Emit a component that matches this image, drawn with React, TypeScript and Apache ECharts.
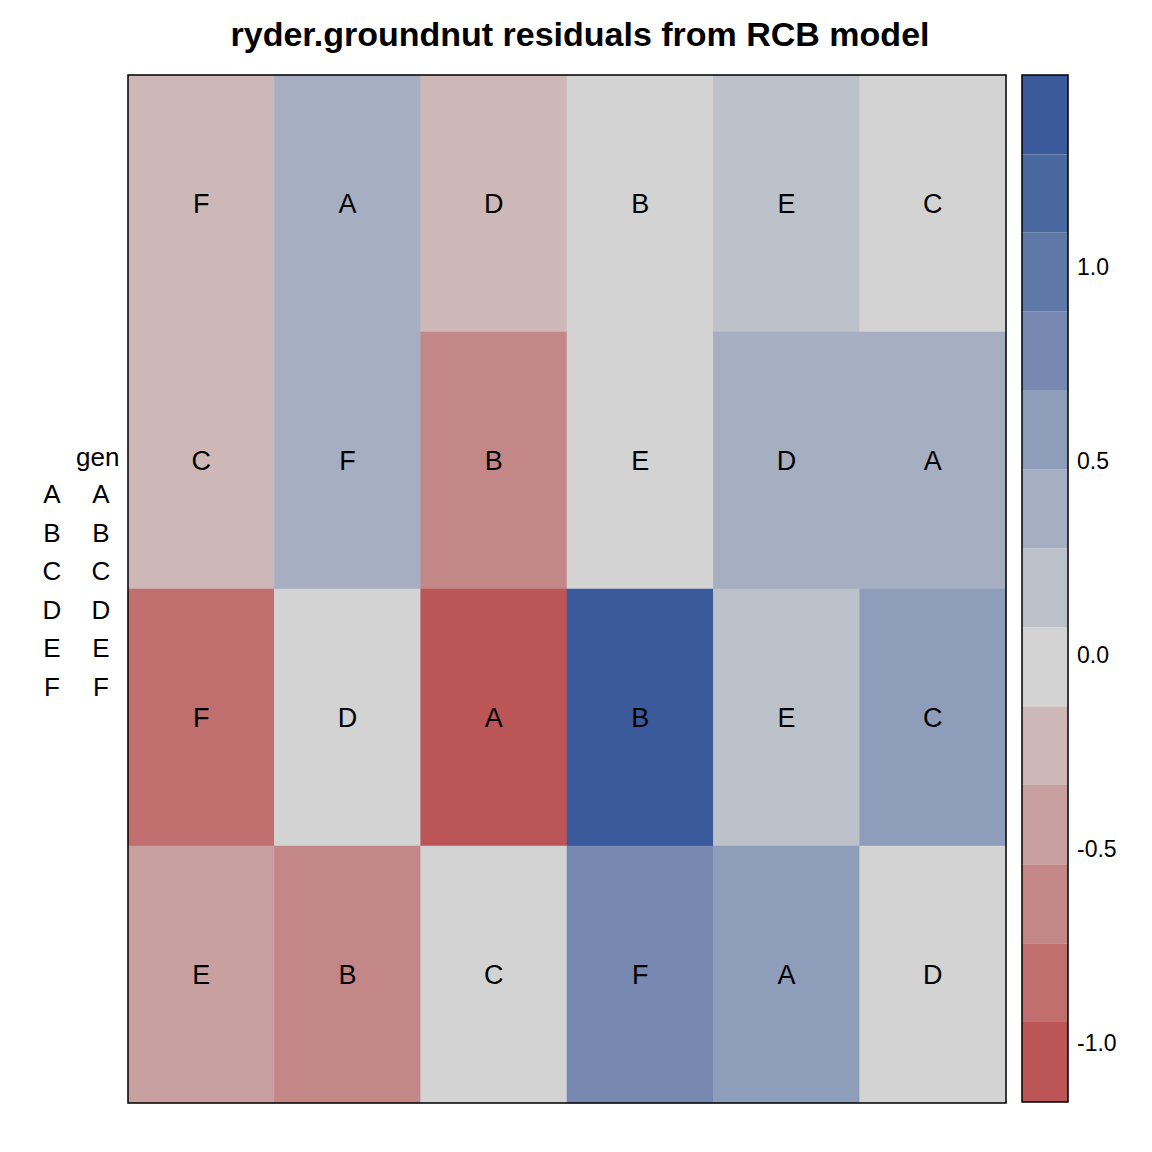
import React, { useEffect, useRef } from 'react';
import * as echarts from 'echarts';

const columns = ['1', '2', '3', '4', '5', '6'];
const rows = ['4', '3', '2', '1']; // bottom to top
// residuals, row by row from top
const rowLetters = [
  ['F', 'A', 'D', 'B', 'E', 'C'],
  ['C', 'F', 'B', 'E', 'D', 'A'],
  ['F', 'D', 'A', 'B', 'E', 'C'],
  ['E', 'B', 'C', 'F', 'A', 'D'],
];
const rowValues = [
  [-0.2, 0.35, -0.2, 0.0, 0.15, 0.0],
  [-0.2, 0.35, -0.6, 0.0, 0.35, 0.35],
  [-0.85, 0.0, -1.05, 1.4, 0.15, 0.55],
  [-0.45, -0.6, 0.0, 0.75, 0.55, 0.0],
];
const binEdges = [-1.152, -0.946, -0.743, -0.539, -0.335, -0.132, 0.072, 0.275, 0.479, 0.683, 0.886, 1.09, 1.29, 1.495];
const binColors = ['#BC5555', '#C06E6E', '#C48787', '#C9A0A0', '#CEB8B7', '#D3D3D3', '#BCC1CA', '#A5AFC1', '#8E9DBA', '#7789B0', '#5E78A8', '#4A68A0', '#3A5A9B'];
const colorTicks = [-1.0, -0.5, 0.0, 0.5, 1.0];
const legendLetters = ['A', 'B', 'C', 'D', 'E', 'F'];

const font = 'Liberation Sans, Arial, sans-serif';

export default function App() {
  const ref = useRef<HTMLDivElement>(null);

  useEffect(() => {
    if (!ref.current) return;
    const chart = echarts.init(ref.current, undefined, { renderer: 'svg' });

    const cells: any[] = [];
    rowValues.forEach((r, i) => {
      r.forEach((v, j) => {
        cells.push([j, 3 - i, v, rowLetters[i][j]]);
      });
    });
    const bins = binColors.map((c, i) => [binEdges[i], binEdges[i + 1], i]);

    const legend: any[] = [
      { type: 'text', left: 76, top: 444, style: { text: 'gen', font: `26px ${font}`, fill: '#000' } },
    ];
    legendLetters.forEach((l, i) => {
      const y = 481 + i * 38.5;
      legend.push({ type: 'text', x: 52, y, style: { text: l, font: `26px ${font}`, fill: '#000', align: 'center' } });
      legend.push({ type: 'text', x: 101, y, style: { text: l, font: `26px ${font}`, fill: '#000', align: 'center' } });
    });

    chart.setOption({
      animation: false,
      backgroundColor: '#fff',
      title: {
        text: 'ryder.groundnut residuals from RCB model',
        left: 575,
        textAlign: 'center',
        top: 12,
        textStyle: { fontFamily: font, fontWeight: 'bold', fontSize: 34, color: '#000' },
      },
      grid: [
        { left: 128, top: 75, width: 878, height: 1028 },
        { left: 1022, top: 75, width: 46, height: 1027 },
      ],
      xAxis: [
        { type: 'category', data: columns, gridIndex: 0, show: false },
        { type: 'value', gridIndex: 1, min: 0, max: 1, show: false },
      ],
      yAxis: [
        { type: 'category', data: rows, gridIndex: 0, show: false },
        {
          type: 'value',
          gridIndex: 1,
          position: 'right',
          min: binEdges[0],
          max: binEdges[binEdges.length - 1],
          splitLine: { show: false },
          axisLine: { show: false },
          axisTick: { show: true, length: 7, lineStyle: { color: '#000' }, customValues: colorTicks },
          axisLabel: {
            color: '#000',
            fontSize: 23,
            fontFamily: font,
            margin: 9,
            customValues: colorTicks,
            formatter: (v: number) => v.toFixed(1),
          },
        },
      ],
      visualMap: {
        type: 'piecewise',
        show: false,
        seriesIndex: 0,
        dimension: 2,
        pieces: binColors.map((c, i) => ({ gte: binEdges[i], lt: binEdges[i + 1], color: c })),
      },
      series: [
        {
          type: 'heatmap',
          xAxisIndex: 0,
          yAxisIndex: 0,
          data: cells,
          label: {
            show: true,
            formatter: (p: any) => p.data[3],
            color: '#000',
            fontSize: 27,
            fontFamily: font,
          },
        },
        {
          type: 'custom',
          xAxisIndex: 1,
          yAxisIndex: 1,
          data: bins,
          renderItem: (params: any, api: any) => {
            const p0 = api.coord([0, api.value(0)]);
            const p1 = api.coord([1, api.value(1)]);
            return {
              type: 'rect',
              shape: { x: p0[0], y: p1[1], width: p1[0] - p0[0], height: p0[1] - p1[1] },
              style: { fill: binColors[api.value(2)] },
            };
          },
        },
      ],
      graphic: [
        { type: 'rect', z: 100, shape: { x: 128, y: 75, width: 878, height: 1028 }, style: { fill: 'none', stroke: '#000', lineWidth: 1.5 } },
        { type: 'rect', z: 100, shape: { x: 1022, y: 75, width: 46, height: 1027 }, style: { fill: 'none', stroke: '#000', lineWidth: 1.5 } },
        ...legend,
      ],
    });

    return () => chart.dispose();
  }, []);

  return <div ref={ref} style={{ position: 'absolute', left: 0, top: 0, width: 1152, height: 1152 }} />;
}
